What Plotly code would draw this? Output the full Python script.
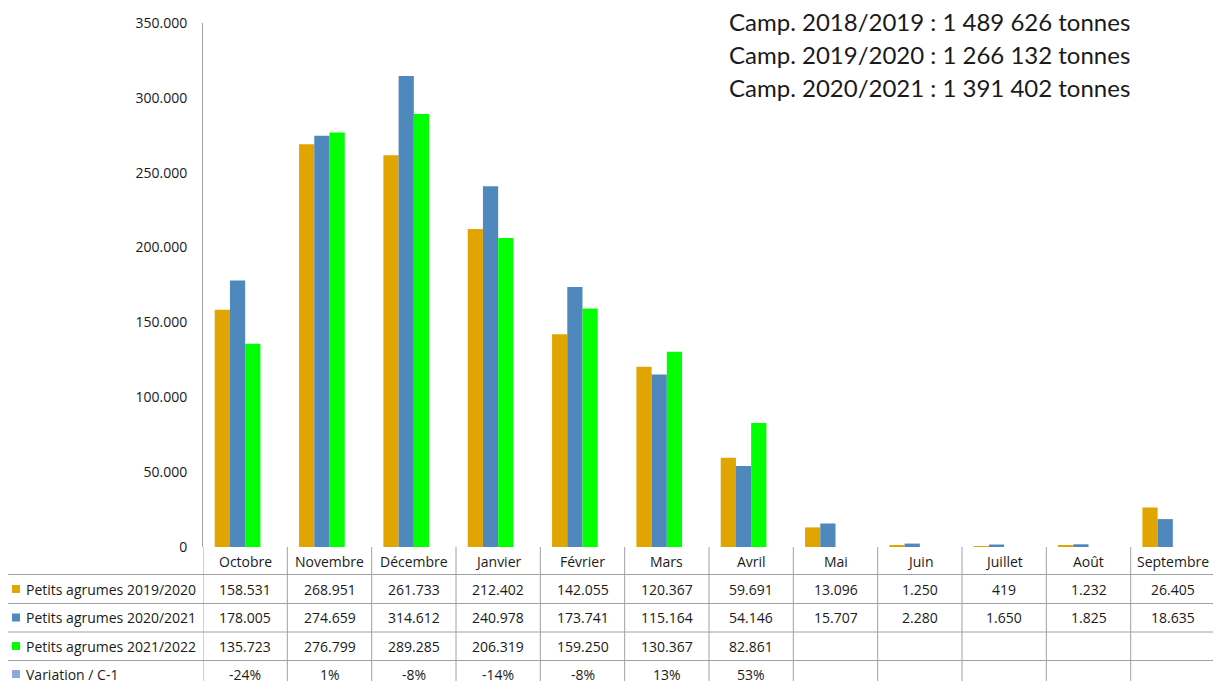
import plotly.graph_objects as go

months = ["Octobre", "Novembre", "Décembre", "Janvier", "Février", "Mars",
          "Avril", "Mai", "Juin", "Juillet", "Août", "Septembre"]
s_2019_2020 = [158531, 268951, 261733, 212402, 142055, 120367, 59691, 13096, 1250, 419, 1232, 26405]
s_2020_2021 = [178005, 274659, 314612, 240978, 173741, 115164, 54146, 15707, 2280, 1650, 1825, 18635]
s_2021_2022 = [135723, 276799, 289285, 206319, 159250, 130367, 82861, None, None, None, None, None]
variation = [-0.24, 0.01, -0.08, -0.14, -0.08, 0.13, 0.53, None, None, None, None, None]

series_names = ["Petits agrumes 2019/2020", "Petits agrumes 2020/2021",
                "Petits agrumes 2021/2022", "Variation / C-1"]
series_colors = ["#E1A500", "#4F88BC", "#00FF00", "#8EA9DB"]
campaign_lines = ["Camp. 2018/2019 : 1 489 626 tonnes",
                  "Camp. 2019/2020 : 1 266 132 tonnes",
                  "Camp. 2020/2021 : 1 391 402 tonnes"]

# The page places the figure 8 px from the window's top-left corner.
OFF = 8
WIN_W, WIN_H = 1221, 681
W, H = WIN_W - OFF, WIN_H - OFF

# Target geometry in window pixels
PL, PR, PT, PB = 203, 1215, 23, 547
L = PL - OFF
R = W - (PR - OFF)
T = PT - OFF
B = H - (PB - OFF)
PW, PH = PR - PL, PB - PT


def py(p):  # window pixel y -> paper
    return (PB - p) / PH


def px(p):  # window pixel x -> paper
    return (p - PL) / PW


def fmt_num(v):
    if v is None:
        return ""
    return f"{v:,}".replace(",", ".")


def fmt_pct(v):
    if v is None:
        return ""
    return f"{round(v * 100)}%"


FONT = "Open Sans"
TXT = "#1a1a1a"
GRID = "#A0A0A0"

fig = go.Figure()
all_series = [s_2019_2020, s_2020_2021, s_2021_2022, variation]
for name, vals, col in zip(series_names, all_series, series_colors):
    fig.add_trace(go.Bar(x=months, y=vals, name=name, marker=dict(color=col, line=dict(width=0))))

annotations = []
shapes = []

# Header month labels
for m in months:
    annotations.append(dict(x=m, xref="x", y=py(561), yref="paper", text=m, showarrow=False,
                            font=dict(family=FONT, size=14, color=TXT), xanchor="center", yanchor="middle"))

row_centers = [589, 617.5, 646, 674]
row_texts = [[fmt_num(v) for v in s_2019_2020],
             [fmt_num(v) for v in s_2020_2021],
             [fmt_num(v) for v in s_2021_2022],
             [fmt_pct(v) for v in variation]]
for r, (name, col, texts) in enumerate(zip(series_names, series_colors, row_texts)):
    yc = row_centers[r]
    annotations.append(dict(x=px(24), xref="paper", y=py(yc), yref="paper", text=name, showarrow=False,
                            font=dict(family=FONT, size=14, color=TXT), xanchor="left", yanchor="middle"))
    shapes.append(dict(type="rect", xref="paper", yref="paper", x0=px(12), x1=px(20), y0=py(yc - 4),
                       y1=py(yc + 4), fillcolor=col, line=dict(width=0)))
    for m, t in zip(months, texts):
        if t:
            annotations.append(dict(x=m, xref="x", y=py(yc), yref="paper", text=t, showarrow=False,
                                    font=dict(family=FONT, size=14, color=TXT), xanchor="center", yanchor="middle"))

# Table grid lines
for yl in [574.5, 603.5, 632, 660.5]:
    shapes.append(dict(type="line", xref="paper", yref="paper", x0=px(6), x1=1, y0=py(yl), y1=py(yl),
                       line=dict(color=GRID, width=1)))
shapes.append(dict(type="line", xref="paper", yref="paper", x0=px(6), x1=px(6), y0=py(574.5), y1=py(700),
                   line=dict(color=GRID, width=1)))
for k in range(13):
    shapes.append(dict(type="line", xref="x", yref="paper", x0=k - 0.5, x1=k - 0.5, y0=0, y1=py(700),
                       line=dict(color=GRID, width=1)))

# Campaign totals text
for i, line in enumerate(campaign_lines):
    annotations.append(dict(x=px(727), xref="paper", y=py(22 + i * 32.5), yref="paper", text=line,
                            showarrow=False, font=dict(family="Lato", size=24, color=TXT),
                            xanchor="left", yanchor="middle"))

fig.update_layout(
    width=W, height=H,
    margin=dict(l=L, r=R, t=T, b=B, autoexpand=False),
    paper_bgcolor="white", plot_bgcolor="white",
    barmode="group", bargap=0.278, bargroupgap=0,
    showlegend=False,
    separators=",.",
    font=dict(family=FONT, size=14, color=TXT),
    xaxis=dict(type="category", range=[-0.5, 11.5], showticklabels=False, showgrid=False,
               showline=False, zeroline=False, ticks=""),
    yaxis=dict(range=[0, 350000], tickvals=[0, 50000, 100000, 150000, 200000, 250000, 300000, 350000],
               tickformat=",d", showgrid=False, zeroline=False, showline=True, linecolor=GRID, linewidth=1,
               ticks="", ticklabelstandoff=12, tickfont=dict(family=FONT, size=14, color=TXT)),
    annotations=annotations,
    shapes=shapes,
)

fig.write_html("out.html")
